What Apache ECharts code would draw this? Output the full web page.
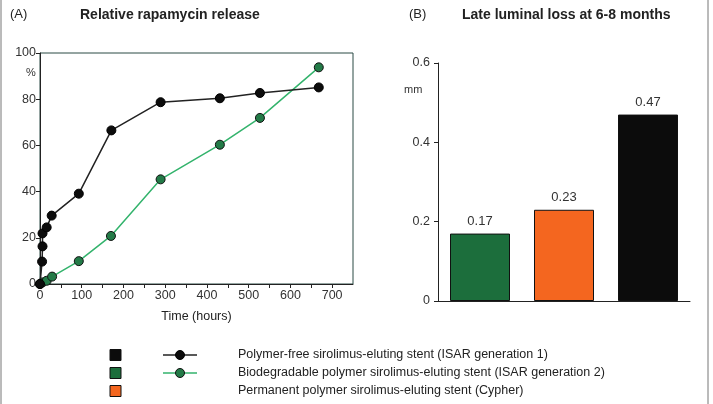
<!DOCTYPE html>
<html><head><meta charset="utf-8">
<script src="https://cdn.jsdelivr.net/npm/echarts@6/dist/echarts.min.js"></script>
<style>html,body{margin:0;padding:0;background:#fff}#c{width:713px;height:404px}</style>
</head><body><div id="c"></div>
<script>
// ---- data ----
var timesBlack = [0, 5, 6, 6, 16, 28, 93, 171, 289, 431, 527, 668];
var releaseBlack = [0, 9.7, 16.3, 21.9, 24.5, 29.6, 39.1, 66.5, 78.7, 80.4, 82.7, 85.1];
var timesGreen = [0, 6, 16, 29, 93, 170, 289, 431, 527, 668];
var releaseGreen = [0, 0.7, 1.4, 3.2, 9.9, 20.8, 45.3, 60.3, 71.9, 93.8];
var barCategories = ['Biodegradable', 'Permanent', 'Polymer-free'];
var lateLoss = [0.17, 0.23, 0.47];
var legendNames = [
  'Polymer-free sirolimus-eluting stent (ISAR generation 1)',
  'Biodegradable polymer sirolimus-eluting stent (ISAR generation 2)',
  'Permanent polymer sirolimus-eluting stent (Cypher)'
];
var titleA = 'Relative rapamycin release';
var titleB = 'Late luminal loss at 6-8 months';

// ---- styles ----
var cBlack = '#0c0c0c', cGreen = '#1c6e3c', cOrange = '#f4661f', cLineGreen = '#33b36c', cMarkGreen = '#237a47';
var font = 'Arial, "Liberation Sans", sans-serif';
var barColors = [cGreen, cOrange, cBlack];

function pairs(xs, ys) { return xs.map(function (x, i) { return [x, ys[i]]; }); }

var chart = echarts.init(document.getElementById('c'));
var legendRowsY = [355, 373, 391];
var legendSquareColors = [cBlack, cGreen, cOrange];
var graphics = [
  { type: 'line', shape: { x1: 1, y1: 0, x2: 1, y2: 404 }, style: { stroke: '#777', lineWidth: 1 } },
  { type: 'line', shape: { x1: 708, y1: 0, x2: 708, y2: 404 }, style: { stroke: '#777', lineWidth: 1 } },
  { type: 'text', left: 26, top: 67, style: { text: '%', font: '11px ' + font, fill: '#333' } },
  { type: 'text', left: 404, top: 84, style: { text: 'mm', font: '11px ' + font, fill: '#333' } }
];
legendNames.forEach(function (n, i) {
  var y = legendRowsY[i];
  graphics.push({ type: 'rect', shape: { x: 110, y: y - 5.5, width: 11, height: 11 }, style: { fill: legendSquareColors[i], stroke: '#111', lineWidth: 1 } });
  graphics.push({ type: 'text', x: 238, y: y, style: { text: n, font: '12.5px ' + font, fill: '#222', textVerticalAlign: 'middle', verticalAlign: 'middle' } });
});
graphics.push({ type: 'line', shape: { x1: 163, y1: legendRowsY[0], x2: 197, y2: legendRowsY[0] }, style: { stroke: '#222', lineWidth: 1.5 } });
graphics.push({ type: 'circle', shape: { cx: 180, cy: legendRowsY[0], r: 4.5 }, style: { fill: cBlack, stroke: '#000' } });
graphics.push({ type: 'line', shape: { x1: 163, y1: legendRowsY[1], x2: 197, y2: legendRowsY[1] }, style: { stroke: cLineGreen, lineWidth: 1.5 } });
graphics.push({ type: 'circle', shape: { cx: 180, cy: legendRowsY[1], r: 4.5 }, style: { fill: cMarkGreen, stroke: '#111' } });

var axisLab = { color: '#333', fontSize: 12.5, fontFamily: font };
var axisLn = { lineStyle: { color: '#222', width: 1 } };

chart.setOption({
  animation: false,
  backgroundColor: '#fff',
  title: [
    { text: '(A)', left: 5, top: 3, textStyle: { fontSize: 13, fontWeight: 'normal', color: '#222', fontFamily: font } },
    { text: titleA, left: 75, top: 3, textStyle: { fontSize: 14, fontWeight: 'bold', color: '#222', fontFamily: font } },
    { text: '(B)', left: 404, top: 3, textStyle: { fontSize: 13, fontWeight: 'normal', color: '#222', fontFamily: font } },
    { text: titleB, left: 457, top: 3, textStyle: { fontSize: 14, fontWeight: 'bold', color: '#222', fontFamily: font } }
  ],
  grid: [
    { left: 40, top: 53, width: 313, height: 231, show: true, borderColor: '#2a4a44', borderWidth: 1, backgroundColor: 'transparent' },
    { left: 438, top: 63, width: 252, height: 238 }
  ],
  xAxis: [
    { gridIndex: 0, type: 'value', min: 0, max: 750, interval: 50, splitLine: { show: false },
      axisLine: axisLn, axisTick: { length: 4, lineStyle: { color: '#222' } },
      axisLabel: Object.assign({ formatter: function (v) { return (v % 100 === 0 && v <= 700) ? String(v) : ''; }, showMaxLabel: false, margin: 5 }, axisLab),
      name: 'Time (hours)', nameLocation: 'middle', nameGap: 26, nameTextStyle: { color: '#222', fontSize: 12.5, fontFamily: font } },
    { gridIndex: 1, type: 'category', data: barCategories, axisLine: axisLn,
      axisTick: { length: 4, lineStyle: { color: '#222' } }, axisLabel: { show: false } }
  ],
  yAxis: [
    { gridIndex: 0, type: 'value', min: 0, max: 100, interval: 20, splitLine: { show: false },
      axisLine: Object.assign({ show: true }, axisLn), axisTick: { show: true, length: 4, lineStyle: { color: '#222' } },
      axisLabel: Object.assign({ margin: 4 }, axisLab) },
    { gridIndex: 1, type: 'value', min: 0, max: 0.6, interval: 0.2, splitLine: { show: false },
      axisLine: Object.assign({ show: true }, axisLn), axisTick: { show: true, length: 4, lineStyle: { color: '#222' } },
      axisLabel: Object.assign({ margin: 8, formatter: function (v) { return v === 0 ? '0' : v.toFixed(1); } }, axisLab) }
  ],
  series: [
    { type: 'line', xAxisIndex: 0, yAxisIndex: 0, data: pairs(timesGreen, releaseGreen),
      symbol: 'circle', symbolSize: 9, lineStyle: { color: cLineGreen, width: 1.5 },
      itemStyle: { color: cMarkGreen, borderColor: '#111', borderWidth: 1 }, z: 3 },
    { type: 'line', xAxisIndex: 0, yAxisIndex: 0, data: pairs(timesBlack, releaseBlack),
      symbol: 'circle', symbolSize: 9, lineStyle: { color: '#222', width: 1.5 },
      itemStyle: { color: cBlack, borderColor: '#000', borderWidth: 1 }, z: 4 },
    { type: 'bar', xAxisIndex: 1, yAxisIndex: 1, barWidth: 60,
      data: lateLoss.map(function (v, i) { return { value: v, itemStyle: { color: barColors[i] } }; }),
      itemStyle: { borderColor: '#111', borderWidth: 1 },
      label: { show: true, position: 'top', distance: 6, color: '#333', fontSize: 13, fontFamily: font,
        formatter: function (p) { return p.value.toFixed(2); } } }
  ],
  graphic: graphics
});
</script></body></html>
